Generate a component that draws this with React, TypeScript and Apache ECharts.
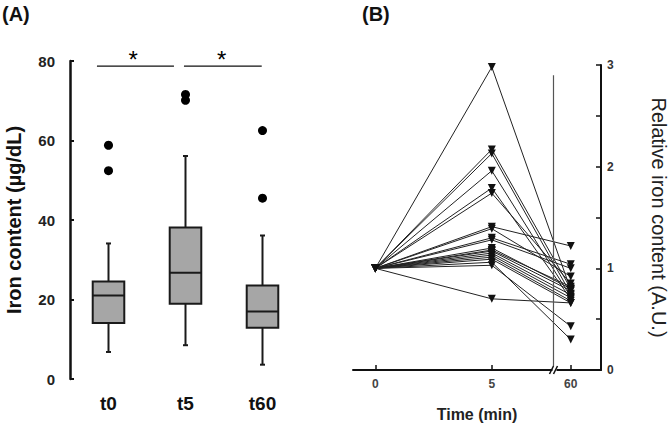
import React, { useEffect, useRef } from "react";
import * as echarts from "echarts";

// Panel A: box plot of iron content (µg/dL)
const categories = ["t0", "t5", "t60"];
const boxMin = [6.8, 8.5, 3.6];
const boxQ1 = [14.1, 18.9, 12.9];
const boxMedian = [21.0, 26.7, 17.0];
const boxQ3 = [24.5, 38.1, 23.5];
const boxMax = [34.1, 56.1, 36.1];
const outlierCat = [0, 0, 1, 1, 2, 2];
const outlierVal = [52.4, 58.8, 70.1, 71.6, 45.5, 62.5];
// significance brackets (band coordinates: 0..3)
const sigStart = [0.35, 1.48];
const sigEnd = [1.35, 2.49];
const sigLevel = 78.7;
const sigMid = [0.82, 1.97];

// Panel B: relative iron content, per subject
const timeLabels = ["0", "5", "60"];
const timePositions = [0, 5, 8.39];
const breakPosition = 7.65;
const t0Values = [1, 1, 1, 1, 1, 1, 1, 1, 1, 1, 1, 1, 1, 1, 1, 1, 1, 1, 1, 1];
const t5Values = [2.98, 2.17, 2.13, 1.96, 1.79, 1.74, 1.41, 1.39, 1.30, 1.28, 1.20, 1.18, 1.17, 1.15, 1.13, 1.11, 1.09, 1.06, 1.03, 0.70];
const t60Values = [0.79, 0.80, 0.75, 0.72, 0.70, 0.85, 1.22, 0.92, 1.04, 1.00, 0.80, 0.82, 0.78, 0.74, 0.71, 0.68, 0.66, 0.30, 0.43, 0.66];

const FONT = "Liberation Sans, Arial, sans-serif";

export default function App() {
  const ref = useRef<HTMLDivElement>(null);
  useEffect(() => {
    document.body.style.margin = "0";
    const chart = echarts.init(ref.current!, undefined, { renderer: "svg" });

    const boxData = categories.map((_, i) => [i, boxMin[i], boxQ1[i], boxMedian[i], boxQ3[i], boxMax[i]]);
    const lineSeries = t5Values.map((v, i) => ({
      type: "line",
      xAxisIndex: 2,
      yAxisIndex: 1,
      data: [
        [timePositions[0], t0Values[i]],
        [timePositions[1], v],
        [timePositions[2], t60Values[i]],
      ],
      symbol: "triangle",
      symbolRotate: 180,
      symbolSize: 8,
      itemStyle: { color: "#111", opacity: 1 },
      lineStyle: { color: "#222", width: 1 },
      z: 3,
    }));

    const labels = [
      { type: "text", left: 2, top: 4, style: { text: "(A)", fontSize: 20, fontWeight: "bold", fill: "#111", fontFamily: FONT } },
      { type: "text", left: 362, top: 4, style: { text: "(B)", fontSize: 20, fontWeight: "bold", fill: "#111", fontFamily: FONT } },
    ];

    const option: any = {
      animation: false,
      textStyle: { fontFamily: FONT },
      grid: [
        { left: 70, width: 231, top: 61, height: 318 },
        { left: 353, right: 65, top: 65, bottom: 48 },
      ],
      xAxis: [
        {
          type: "category",
          gridIndex: 0,
          data: categories,
          axisLine: { show: false },
          axisTick: { show: false },
          axisLabel: { fontSize: 19, fontWeight: "bold", color: "#111", margin: 15, fontFamily: FONT },
        },
        { type: "value", gridIndex: 0, min: 0, max: 3, show: false },
        {
          type: "value",
          gridIndex: 1,
          min: -0.96,
          max: 9.69,
          splitLine: { show: false },
          axisLine: { onZero: false, lineStyle: { color: "#111", width: 2 } },
          axisTick: { inside: true, length: 5, customValues: timePositions, lineStyle: { color: "#111", width: 1.5 } },
          axisLabel: {
            customValues: timePositions,
            fontSize: 12,
            fontWeight: "bold",
            color: "#444",
            margin: 8,
            fontFamily: FONT,
            formatter: (v: number) => {
              const idx = timePositions.findIndex((p) => Math.abs(p - v) < 1e-6);
              return idx >= 0 ? timeLabels[idx] : "";
            },
          },
          name: "Time (min)",
          nameLocation: "middle",
          nameGap: 36,
          nameTextStyle: { fontSize: 16, fontWeight: "bold", color: "#222", fontFamily: FONT },
        },
      ],
      yAxis: [
        {
          type: "value",
          gridIndex: 0,
          min: 0,
          max: 80,
          interval: 20,
          splitLine: { show: false },
          axisLine: { show: true, onZero: false, lineStyle: { color: "#111", width: 2.5 } },
          axisTick: { show: true, inside: true, length: 4, lineStyle: { color: "#111", width: 2 } },
          axisLabel: { fontSize: 15, fontWeight: "bold", color: "#222", margin: 15, fontFamily: FONT },
          name: "Iron content (µg/dL)",
          nameLocation: "middle",
          nameRotate: 90,
          nameGap: 46,
          nameTextStyle: { fontSize: 20, fontWeight: "bold", color: "#111", fontFamily: FONT },
        },
        {
          type: "value",
          gridIndex: 1,
          position: "right",
          min: 0,
          max: 3,
          interval: 1,
          splitLine: { show: false },
          axisLine: { show: true, onZero: false, lineStyle: { color: "#111", width: 2 } },
          axisTick: { show: true, inside: true, length: 5, lineStyle: { color: "#111", width: 1.5 } },
          minorTick: { show: true, splitNumber: 2, length: 5, lineStyle: { color: "#111", width: 1.5 } },
          axisLabel: { fontSize: 12, fontWeight: "bold", color: "#333", margin: 6, fontFamily: FONT },
          name: "Relative iron content (A.U.)",
          nameLocation: "middle",
          nameRotate: -90,
          nameGap: 48,
          nameTextStyle: { fontSize: 20, color: "#222", fontFamily: FONT },
        },
      ],
      series: [
        {
          type: "custom",
          xAxisIndex: 0,
          yAxisIndex: 0,
          data: boxData,
          renderItem: (params: any, api: any) => {
            const x = api.value(0);
            const pMin = api.coord([x, api.value(1)]);
            const pQ1 = api.coord([x, api.value(2)]);
            const pMed = api.coord([x, api.value(3)]);
            const pQ3 = api.coord([x, api.value(4)]);
            const pMax = api.coord([x, api.value(5)]);
            const w = api.size([1, 0])[0] * 0.41;
            const cx = pMed[0];
            const stroke = { stroke: "#1a1a1a", lineWidth: 2 };
            return {
              type: "group",
              children: [
                { type: "line", shape: { x1: cx, y1: pMin[1], x2: cx, y2: pQ1[1] }, style: stroke },
                { type: "line", shape: { x1: cx, y1: pQ3[1], x2: cx, y2: pMax[1] }, style: stroke },
                { type: "line", shape: { x1: cx - 2.5, y1: pMin[1], x2: cx + 2.5, y2: pMin[1] }, style: stroke },
                { type: "line", shape: { x1: cx - 2.5, y1: pMax[1], x2: cx + 2.5, y2: pMax[1] }, style: stroke },
                {
                  type: "rect",
                  shape: { x: cx - w / 2, y: pQ3[1], width: w, height: pQ1[1] - pQ3[1] },
                  style: { fill: "#a6a6a6", stroke: "#1a1a1a", lineWidth: 2 },
                },
                { type: "line", shape: { x1: cx - w / 2, y1: pMed[1], x2: cx + w / 2, y2: pMed[1] }, style: stroke },
              ],
            };
          },
          z: 2,
        },
        {
          type: "scatter",
          xAxisIndex: 0,
          yAxisIndex: 0,
          data: outlierCat.map((c, i) => [c, outlierVal[i]]),
          symbol: "circle",
          symbolSize: 9,
          itemStyle: { color: "#000", opacity: 1 },
          z: 3,
        },
        ...sigStart.map((s, i) => ({
          type: "line",
          xAxisIndex: 1,
          yAxisIndex: 0,
          data: [
            [s, sigLevel],
            [sigEnd[i], sigLevel],
          ],
          symbol: "none",
          lineStyle: { color: "#111", width: 1.2 },
        })),
        {
          type: "scatter",
          xAxisIndex: 1,
          yAxisIndex: 0,
          clip: false,
          data: sigMid.map((m) => [m, 80.5]),
          symbolSize: 0,
          itemStyle: { opacity: 1 },
          label: {
            show: true,
            position: "inside",
            formatter: "*",
            fontSize: 24,
            color: "#000",
            fontFamily: FONT,
          },
        },
        {
          type: "line",
          xAxisIndex: 2,
          yAxisIndex: 1,
          data: [
            [breakPosition, 0],
            [breakPosition, 2.9],
          ],
          symbol: "none",
          lineStyle: { color: "#555", width: 1.2 },
          z: 4,
        },
        ...lineSeries,
      ],
      graphic: labels,
    };
    chart.setOption(option);

    const p = chart.convertToPixel({ xAxisIndex: 2, yAxisIndex: 1 } as any, [breakPosition, 0]) as number[];
    if (p) {
      const [bx, by] = p;
      chart.setOption({
        graphic: [
          ...labels,
          { type: "rect", shape: { x: bx - 1, y: by - 4, width: 4, height: 8 }, style: { fill: "#fff" }, z: 100 },
          { type: "line", shape: { x1: bx - 4, y1: by + 4, x2: bx, y2: by - 4 }, style: { stroke: "#111", lineWidth: 1.5 }, z: 101 },
          { type: "line", shape: { x1: bx, y1: by + 4, x2: bx + 4, y2: by - 4 }, style: { stroke: "#111", lineWidth: 1.5 }, z: 101 },
        ],
      });
    }

    return () => chart.dispose();
  }, []);
  return <div ref={ref} style={{ width: 670, height: 427 }} />;
}
